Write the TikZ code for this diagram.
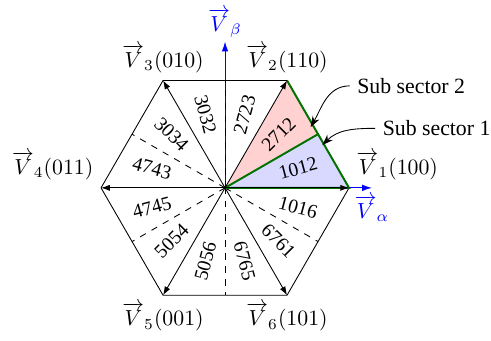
\documentclass[tikz,border=0pt]{standalone}
\usepackage{fontspec}
\setmainfont{Liberation Serif}
\usepackage{amsmath}
\usetikzlibrary{arrows.meta, calc}

\begin{document}
\begin{tikzpicture}[
  vec/.style={-{Latex[length=4pt, width=2.8pt]}, line width=.4pt},
  axis/.style={draw=blue, -{Latex[length=4.5pt, width=3pt]}, line width=.5pt},
  subline/.style={draw=green!45!black, line width=.9pt},
  seclab/.style={font=\small, inner sep=1pt},
  callout/.style={-{Stealth[length=5pt, width=3.5pt]}, line width=.4pt},
]
\useasboundingbox (-3.63,-2.47) rectangle (4.29,3.03);
\def\R{2}
\coordinate (O) at (0,0);
\foreach \k in {1,...,6}{
  \coordinate (V\k) at ({(\k-1)*60}:\R);
  \coordinate (M\k) at ({(\k-1)*60+30}:{\R*cos(30)});
}

% sub sectors 1 and 2
\fill[blue!15] (O) -- (V1) -- (M1) -- cycle;
\fill[red!18] (O) -- (M1) -- (V2) -- cycle;

% hexagon
\draw[line width=.4pt] (V1) -- (V2) -- (V3) -- (V4) -- (V5) -- (V6) -- cycle;

% axes
\draw[axis] (O) -- (2.37,0) coordinate (Aalpha);
\draw[axis] (O) -- (0,2.36) coordinate (Abeta);
\node[text=blue, below] (alphalab) at (Aalpha) {$\overrightarrow{V}_\alpha$};
\node[text=blue, above, inner sep=1.5pt] (betalab) at (Abeta) {$\overrightarrow{V}_\beta$};

% sector halves
\foreach \k in {2,...,6}
  \draw[dashed] (O) -- (M\k);
\draw[subline] (O) -- (M1);
\draw[subline] (O) -- (V1) -- (V2);

% voltage vectors
\foreach \k in {1,...,6}
  \draw[vec] (O) -- (V\k);

\node[above right] (v1) at (V1) {$\overrightarrow{V}_1(100)$};
\node[above] (v2) at (V2) {$\overrightarrow{V}_2(110)$};
\node[above] (v3) at (V3) {$\overrightarrow{V}_3(010)$};
\node[above left] (v4) at (V4) {$\overrightarrow{V}_4(011)$};
\node[below] (v5) at (V5) {$\overrightarrow{V}_5(001)$};
\node[below] (v6) at (V6) {$\overrightarrow{V}_6(101)$};

% switching sequences
\foreach \a/\t in {15/1012, 45/2712, 75/2723, 105/3032, 135/3034, 165/4743,
                   195/4745, 225/5054, 255/5056, 285/6765, 315/6761, 345/1016}{
  \ifnum\a>90 \ifnum\a<270
    \pgfmathsetmacro{\rot}{\a-180}
  \else
    \pgfmathsetmacro{\rot}{\a}
  \fi \else
    \pgfmathsetmacro{\rot}{\a}
  \fi
  \node[seclab, rotate=\rot] (s\a) at (\a:1.22) {\t};
}

% callouts
\node[anchor=west] (sub2) at (2.01,1.645) {Sub sector 2};
\node[anchor=west] (sub1) at (2.42,0.96) {Sub sector 1};
\coordinate (p2) at (1.38,0.98);
\coordinate (p1) at (1.57,0.69);
\draw[callout] (sub2.west) to[out=180, in=60] (p2);
\draw[callout] (sub1.west) to[out=180, in=45] (p1);
\end{tikzpicture}
\end{document}
